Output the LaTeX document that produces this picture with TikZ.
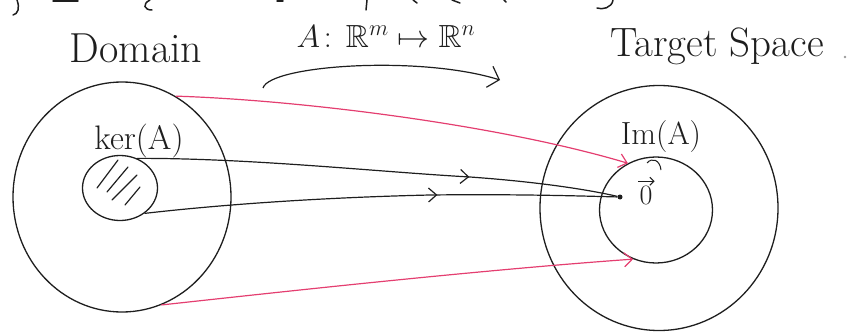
\RequirePackage{fix-cm}
\documentclass[tikz,border=0pt]{standalone}
\usepackage{amssymb}
\usetikzlibrary{shapes.geometric,arrows.meta,decorations.markings}
\definecolor{inkred}{RGB}{228,62,112}
\definecolor{ink}{RGB}{30,30,30}
\begin{document}
\begin{tikzpicture}[x=1pt,y=-1pt,
  ell/.style={ellipse,draw=ink,line width=1.3pt,inner sep=0pt},
  blk/.style={draw=ink,line width=1.2pt},
  rd/.style={draw=inkred,line width=1.2pt},
  barb/.style={-{Straight Barb[length=8pt,width=14pt]}},
  lbl/.style={text=ink,inner sep=0pt,anchor=base},
  frag/.style={draw=ink,line width=1.5pt,line cap=round}]
\useasboundingbox (0,0) rectangle (849,332);

% regions
\node[ell,minimum width=218pt,minimum height=230pt] (dom) at (122,197) {};
\node[ell,minimum width=75pt,minimum height=65pt] (ker) at (120,188) {};
\node[ell,minimum width=238pt,minimum height=245pt] (tgt) at (659,208) {};
\node[ell,minimum width=113pt,minimum height=106pt] (im) at (656,210) {};
\node[circle,fill=ink,inner sep=0pt,minimum size=5pt] (zero) at (620,197) {};

% labels
\node[lbl,font=\fontsize{42}{46}\selectfont] (domlbl) at (136,62) {Domain};
\node[lbl,font=\fontsize{41}{46}\selectfont] (tgtlbl) at (717,56) {Target Space};
\node[lbl,font=\fontsize{32}{36}\selectfont] (maplbl) at (386,47) {$A\!:\,\mathbb{R}^m \mapsto \mathbb{R}^n$};
\node[lbl,font=\fontsize{34}{38}\selectfont] (kerlbl) at (139,149) {ker(A)};
\node[lbl,font=\fontsize{32}{36}\selectfont] (imlbl) at (661,144) {Im(A)};
\node[lbl,font=\fontsize{28}{32}\selectfont] (zerolbl) at (646,204) {0};
\draw[blk,line width=1.1pt,-{Straight Barb[length=4pt,width=8pt]}]
  ([xshift=-1pt,yshift=4pt]zerolbl.north west) -- ([xshift=2pt,yshift=4pt]zerolbl.north east);

% hatching in the kernel
\foreach \a/\b/\c/\d in {118/160/97/188,128/167/107/192,137/175/112/200,140/187/125/205}
  \draw[blk,line cap=round] (\a,\b) -- (\c,\d);

% mapping arrow at the top
\coordinate (ca) at (263,88);
\coordinate (cb) at (500,80);
\draw[blk,-{Straight Barb[length=10pt,width=22pt]}] (ca) .. controls (270,65) and (420,55) .. (cb);

% black arrows from the kernel to the zero vector
\draw[blk,postaction={decorate},decoration={markings,mark=at position 0.69 with {\arrow{Straight Barb[length=8pt,width=14pt]}}}]
  (ker.60) .. controls (250,158) and (380,172) .. (470,177) .. controls (540,182) and (590,190) .. (zero);
\draw[blk,postaction={decorate},decoration={markings,mark=at position 0.62 with {\arrow{Straight Barb[length=8pt,width=14pt]}}}]
  (ker.-46) .. controls (200,207) and (300,198) .. (430,195) .. controls (520,194) and (580,196) .. (zero);

% red arrows into the image
\draw[rd,barb] (dom.62) .. controls (300,100) and (500,125) .. (im.121);
\draw[rd,barb] (dom.-70) .. controls (280,292) and (480,270) .. (im.-115);

% small marks
\draw[blk,line width=1pt] (647,163) .. controls (652,157) and (660,160) .. (661,170);
\fill[black!40] (845,57) circle (1.3pt);

% cut-off strokes of the line above
\draw[frag] (17,0) .. controls (20,8) and (18,14) .. (13,15);
\draw[frag] (53,1) -- (78,1);
\draw[frag] (150,0) .. controls (142,4) and (144,10) .. (152,10);
\draw[frag] (277,1) -- (283,1);
\draw[frag] (367,0) -- (366,10);
\draw[frag] (413,0) -- (417,3);
\draw[frag] (452,0) -- (460,3);
\draw[frag] (504,0) -- (506,2);
\draw[frag] (613,0) .. controls (612,8) and (602,10) .. (597,8);
\end{tikzpicture}
\end{document}
